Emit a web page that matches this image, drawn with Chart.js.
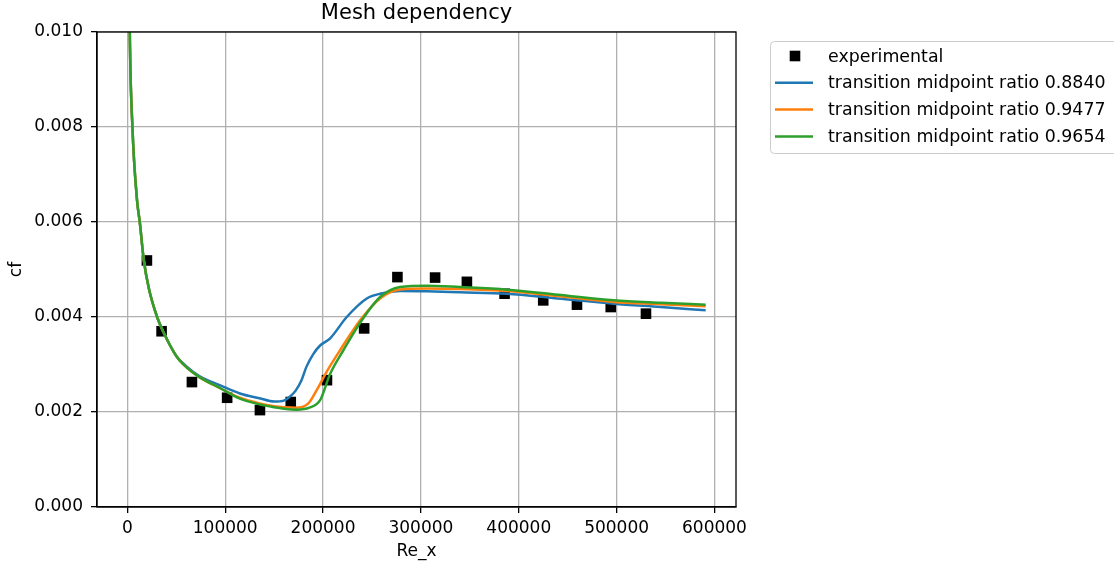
<!DOCTYPE html>
<html>
<head>
<meta charset="utf-8">
<script src="https://cdn.jsdelivr.net/npm/chart.js@4.4.1/dist/chart.umd.min.js"></script>
<style>
  html, body { margin: 0; padding: 0; background: #fff; }
  #wrap { width: 1114px; height: 567px; }
</style>
</head>
<body>
<div id="wrap"><canvas id="cf-chart" width="1114" height="567"></canvas></div>
<script>
// experimental cf points
var expRe = [20000, 35000, 66000, 102000, 135500, 167000, 204000, 242000, 276000, 314500, 347000, 385500, 425000, 459500, 494000, 530000];
var expCf = [0.00519, 0.00370, 0.00263, 0.00230, 0.00204, 0.00221, 0.00267, 0.00376, 0.00484, 0.00483, 0.00474, 0.00449, 0.00435, 0.00426, 0.00421, 0.00407];

// transition midpoint ratio 0.8840
var blueRe = [2000, 2500, 5200, 9900, 12700, 16800, 22000, 30400, 36500, 50000, 60500, 74000, 95000, 115000, 135000, 150000, 160000, 166000, 172000, 178000, 183000, 190000, 197000, 207000, 224200, 244700, 258300, 278800, 306100, 340000, 388000, 440000, 497000, 545000, 591000];
var blueCf = [0.0112, 0.0100, 0.0080, 0.00646, 0.0060, 0.0052, 0.0046, 0.0040, 0.0037, 0.00318, 0.00296, 0.00275, 0.00256, 0.00239, 0.00229, 0.00222, 0.00224, 0.00232, 0.00245, 0.00267, 0.00295, 0.00322, 0.00340, 0.003545, 0.0040, 0.00439, 0.00449, 0.004547, 0.00454, 0.00452, 0.00449, 0.00439, 0.00428, 0.00421, 0.00414];

// transition midpoint ratio 0.9477
var orangeRe = [2000, 2500, 5200, 9900, 12700, 16800, 22000, 30400, 36500, 50000, 60500, 74000, 95000, 115000, 135000, 150000, 160000, 173000, 185000, 193500, 203800, 217400, 237900, 258300, 278800, 306100, 340000, 388000, 440000, 497000, 545000, 591000];
var orangeCf = [0.0112, 0.0100, 0.0080, 0.00646, 0.0060, 0.0052, 0.0046, 0.0040, 0.0037, 0.00318, 0.00294, 0.00273, 0.00250, 0.00230, 0.00218, 0.00212, 0.00210, 0.00209, 0.00218, 0.00246, 0.00285, 0.0033, 0.00393, 0.00439, 0.004577, 0.0046, 0.00459, 0.004547, 0.00444, 0.004316, 0.00427, 0.004225];

// transition midpoint ratio 0.9654
var greenRe = [2000, 2500, 5200, 9900, 12700, 16800, 22000, 30400, 36500, 50000, 60500, 74000, 95000, 115000, 135000, 150000, 160000, 173000, 186000, 197000, 207200, 220800, 239600, 258300, 278800, 306100, 340000, 388000, 440000, 497000, 545000, 591000];
var greenCf = [0.0112, 0.0100, 0.0080, 0.00646, 0.0060, 0.0052, 0.0046, 0.0040, 0.0037, 0.00318, 0.00294, 0.00273, 0.00250, 0.00228, 0.00216, 0.00210, 0.00207, 0.00205, 0.00209, 0.00225, 0.0028, 0.0033, 0.00393, 0.00442, 0.00463, 0.00466, 0.00463, 0.004576, 0.00447, 0.004352, 0.0043, 0.00426];

var xTicks = [0, 100000, 200000, 300000, 400000, 500000, 600000];
var yTicks = [0, 0.002, 0.004, 0.006, 0.008, 0.010];

function pts(xs, ys) {
    return xs.map(function (x, i) { return {x: x, y: ys[i]}; });
}

Chart.defaults.font.family = "'DejaVu Sans', sans-serif";
Chart.defaults.color = '#000';

var FS = 17;
var LEG_FS = 17.4;

// matplotlib-like title, frame and legend box
var framePlugin = {
    id: 'frame',
    afterDraw: function (chart) {
        var ctx = chart.ctx, a = chart.chartArea;
        ctx.save();
        ctx.strokeStyle = '#000';
        ctx.lineWidth = 1.3;
        ctx.strokeRect(a.left, a.top, a.right - a.left, a.bottom - a.top);

        ctx.fillStyle = '#000';
        ctx.font = "21px 'DejaVu Sans'";
        ctx.textAlign = 'center';
        ctx.textBaseline = 'middle';
        ctx.fillText('Mesh dependency', (a.left + a.right) / 2, 14);

        // legend
        var bx = 770.5, by = 41.5, bw = 380, bh = 112;
        ctx.beginPath();
        ctx.roundRect(bx, by, bw, bh, 4);
        ctx.fillStyle = 'rgba(255,255,255,0.8)';
        ctx.fill();
        ctx.strokeStyle = '#cccccc';
        ctx.lineWidth = 1;
        ctx.stroke();

        ctx.font = LEG_FS + "px 'DejaVu Sans'";
        ctx.textBaseline = 'middle';
        ctx.textAlign = 'left';
        chart.data.datasets.forEach(function (ds, i) {
            var y = 56 + i * 26.8;
            if (ds.showLine) {
                ctx.beginPath();
                ctx.moveTo(775, y);
                ctx.lineTo(813, y);
                ctx.strokeStyle = ds.borderColor;
                ctx.lineWidth = 2.5;
                ctx.stroke();
            } else {
                ctx.fillStyle = ds.backgroundColor;
                ctx.fillRect(795 - 5.3, y - 5.3, 10.6, 10.6);
            }
            ctx.fillStyle = '#000';
            ctx.fillText(ds.label, 828, y + 1);
        });
        ctx.restore();
    }
};

var ctx = document.getElementById('cf-chart').getContext('2d');

new Chart(ctx, {
    type: 'scatter',
    data: {
        datasets: [
            {
                label: 'experimental',
                data: pts(expRe, expCf),
                pointStyle: 'rect',
                pointRadius: 7.5,
                pointBorderWidth: 0,
                backgroundColor: '#000',
                borderColor: '#000',
                order: 3
            },
            {
                label: 'transition midpoint ratio 0.8840',
                data: pts(blueRe, blueCf),
                showLine: true,
                borderColor: '#1f77b4',
                backgroundColor: '#1f77b4',
                borderWidth: 2.5,
                pointRadius: 0,
                cubicInterpolationMode: 'monotone',
                order: 2
            },
            {
                label: 'transition midpoint ratio 0.9477',
                data: pts(orangeRe, orangeCf),
                showLine: true,
                borderColor: '#ff7f0e',
                backgroundColor: '#ff7f0e',
                borderWidth: 2.5,
                pointRadius: 0,
                cubicInterpolationMode: 'monotone',
                order: 1
            },
            {
                label: 'transition midpoint ratio 0.9654',
                data: pts(greenRe, greenCf),
                showLine: true,
                borderColor: '#2ca02c',
                backgroundColor: '#2ca02c',
                borderWidth: 2.5,
                pointRadius: 0,
                cubicInterpolationMode: 'monotone',
                order: 0
            }
        ]
    },
    options: {
        responsive: false,
        animation: false,
        devicePixelRatio: 1,
        layout: { padding: { left: 0, top: 32, right: 378, bottom: 0 } },
        plugins: {
            legend: { display: false },
            tooltip: { enabled: false },
            title: { display: false }
        },
        scales: {
            x: {
                type: 'linear',
                min: -31000,
                max: 622000,
                afterBuildTicks: function (s) { s.ticks = xTicks.map(function (v) { return {value: v}; }); },
                afterFit: function (s) { s.height = 60; },
                ticks: {
                    font: { size: FS },
                    color: '#000',
                    padding: 5,
                    maxRotation: 0,
                    autoSkip: false,
                    callback: function (v) { return String(v); }
                },
                grid: { color: '#b0b0b0', lineWidth: 1.3, tickColor: '#000', tickLength: 6, tickWidth: 1.3 },
                border: { color: '#000', width: 1.3 },
                title: { display: true, text: 'Re_x', font: { size: FS }, color: '#000', padding: { top: 0, bottom: 5 } }
            },
            y: {
                type: 'linear',
                min: 0,
                max: 0.010,
                afterBuildTicks: function (s) { s.ticks = yTicks.map(function (v) { return {value: v}; }); },
                afterFit: function (s) { s.width = 97; },
                ticks: {
                    font: { size: FS },
                    color: '#000',
                    padding: 8,
                    autoSkip: false,
                    callback: function (v) { return v.toFixed(3); }
                },
                grid: { color: '#b0b0b0', lineWidth: 1.3, tickColor: '#000', tickLength: 6, tickWidth: 1.3 },
                border: { color: '#000', width: 1.3 },
                title: { display: true, text: 'cf', font: { size: FS }, color: '#000', padding: { top: 6, bottom: 0 } }
            }
        }
    },
    plugins: [framePlugin]
});
</script>
</body>
</html>
